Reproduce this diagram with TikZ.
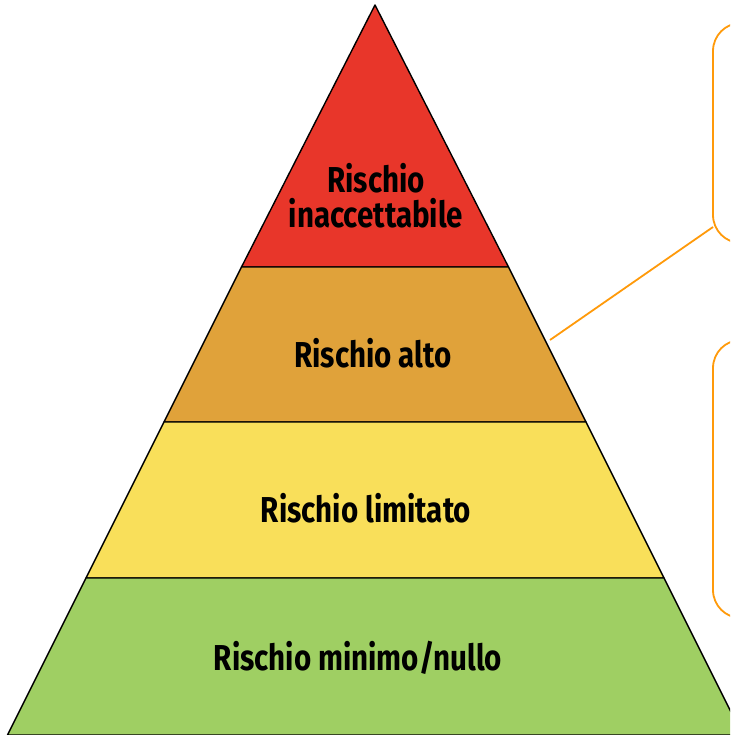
\documentclass[tikz,border=0pt]{standalone}
\usepackage{fontspec}
\setmainfont[FakeStretch=0.82]{Fira Sans}
\usetikzlibrary{calc}
\definecolor{rred}{HTML}{E8362A}
\definecolor{rorange}{HTML}{E0A23A}
\definecolor{ryellow}{HTML}{F9DF5A}
\definecolor{rgreen}{HTML}{9FCF63}
\definecolor{callout}{HTML}{FF9A0A}
\tikzset{
  band/.style={draw=black, line width=1.4pt, line join=round},
  lbl/.style={font=\bfseries\fontsize{36}{35}\selectfont, text=black, align=center, inner sep=0pt},
  cbox/.style={draw=callout, line width=1.8pt, rounded corners=28pt},
  cline/.style={draw=callout, line width=1.8pt},
}
\begin{document}
\begin{tikzpicture}[x=1pt,y=-1pt]
\useasboundingbox (0,0) rectangle (730,735);
\clip (0,0) rectangle (730,735);
\fill[white] (0,0) rectangle (730,735);
% bands
\coordinate (apex) at (375,5);
\coordinate (l1) at (241.5,267); \coordinate (r1) at (508.5,267);
\coordinate (l2) at (164,422);   \coordinate (r2) at (586,422);
\coordinate (l3) at (86,578);    \coordinate (r3) at (664,578);
\coordinate (l4) at (7.5,735);   \coordinate (r4) at (742.5,735);
\filldraw[band, fill=rred] (apex) -- (r1) -- (l1) -- cycle;
\filldraw[band, fill=rorange] (l1) -- (r1) -- (r2) -- (l2) -- cycle;
\filldraw[band, fill=ryellow] (l2) -- (r2) -- (r3) -- (l3) -- cycle;
\filldraw[band, fill=rgreen] (l3) -- (r3) -- (r4) -- (l4) -- cycle;
% labels
\node[lbl] (t1) at (376,196) {Rischio\\inaccettabile};
\node[lbl] (t2) at (373,353) {Rischio alto};
\node[lbl] (t3) at (366,508) {Rischio limitato};
\node[lbl] (t4) at (358,658) {Rischio minimo/nullo};
% callout boxes
\draw[cbox] (713,23) rectangle (790,243);
\draw[cbox] (713,340) rectangle (790,618);
\coordinate (bx1) at (713,227);
\coordinate (px) at (550,340);
\draw[cline] (px) -- (bx1);
\end{tikzpicture}
\end{document}
